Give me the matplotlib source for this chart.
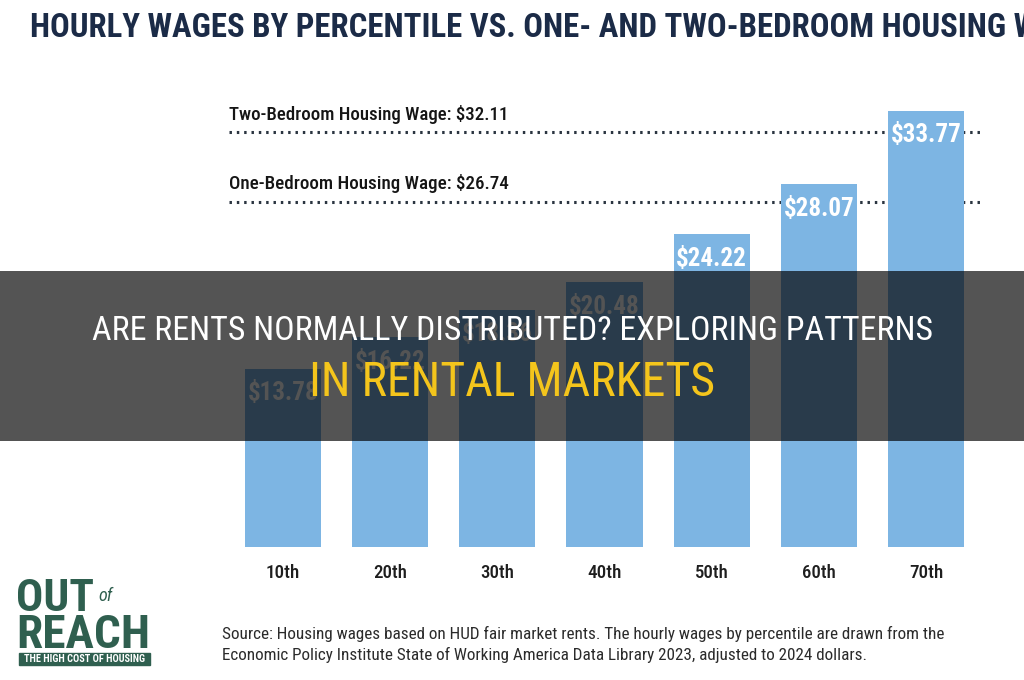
import matplotlib
matplotlib.use('Agg')
import matplotlib.pyplot as plt
from matplotlib import font_manager
from matplotlib.patches import Rectangle

# wages by percentile (30th label is hidden under the banner, value estimated)
percentiles = ['10th', '20th', '30th', '40th', '50th', '60th', '70th']
wages = [13.78, 16.22, 18.36, 20.48, 24.22, 28.07, 33.77]

# housing wage reference lines
housing_labels = ['Two-Bedroom Housing Wage: $32.11', 'One-Bedroom Housing Wage: $26.74']
housing_values = [32.11, 26.74]

title = 'HOURLY WAGES BY PERCENTILE VS. ONE- AND TWO-BEDROOM HOUSING WAGES'
source = ['Source: Housing wages based on HUD fair market rents. The hourly wages by percentile are drawn from the',
          'Economic Policy Institute State of Working America Data Library 2023, adjusted to 2024 dollars.']
banner_line1 = 'ARE RENTS NORMALLY DISTRIBUTED? EXPLORING PATTERNS'
banner_line2 = 'IN RENTAL MARKETS'

# pick the narrowest installed family
installed = {f.name for f in font_manager.fontManager.ttflist}
narrow_name = next((n for n in ['Liberation Sans Narrow', 'DejaVu Sans Condensed', 'Roboto Condensed',
                                'Open Sans Condensed', 'Roboto', 'Liberation Sans'] if n in installed),
                   'DejaVu Sans')
narrow = [narrow_name, 'DejaVu Sans']
navy = '#1b2b47'
bar_color = '#7db5e3'

W, H = 1024, 680
fig = plt.figure(figsize=(W / 100, H / 100), dpi=100)
fig.patch.set_facecolor('white')
renderer = fig.canvas.get_renderer()


def fit(t, width_px):
    # scale the font so the text is as wide as in the reference
    w = t.get_window_extent(renderer).width
    t.set_fontsize(t.get_fontsize() * width_px / w)
    return t


# axes placed in pixels so bars land where the original has them
left, right, bottom, top = 229.4, 979.6, 547, 100
ax = fig.add_axes([left / W, 1 - bottom / H, (right - left) / W, (bottom - top) / H])
x = range(len(wages))
ax.bar(x, wages, width=0.71, color=bar_color, zorder=2)
ax.set_xlim(-0.5, 6.5)
ax.set_ylim(0, 34.6)
for s in ax.spines.values():
    s.set_visible(False)
ax.set_yticks([])
ax.set_xticks(list(x))
ax.set_xticklabels(percentiles, family=narrow, fontsize=15, color='#1e1e1e', fontweight='medium')
ax.tick_params(axis='x', length=0, pad=12)
for lab in ax.get_xticklabels():
    fit(lab, 34)

# value labels inside bars
for xi, v in zip(x, wages):
    t = ax.annotate(f'${v:.2f}', (xi, v), xytext=(0, -9), textcoords='offset points',
                    ha='center', va='top', color='white', fontsize=18, fontweight='bold',
                    family=narrow, zorder=3)
    fit(t, 71)

# dotted housing wage lines
for lab, v in zip(housing_labels, housing_values):
    ax.axhline(v, color='#2a3440', lw=2.2, ls=(0, (0.8, 1.6)), zorder=1)
    t = ax.annotate(lab, (-0.5, v), xytext=(0, 6), textcoords='offset points',
                    ha='left', va='bottom', fontsize=15, family=narrow, color='#151515',
                    fontweight='medium')
    fit(t, 280)

# title (runs off the right edge like the original)
t = fig.text(30 / W, 1 - 28 / H, title.rsplit(' ', 1)[0], ha='left', va='center', fontsize=21,
             fontweight='bold', family=narrow, color=navy)
fit(t, 975)
t.set_text(title)

# logo
green = '#2f5f4f'
t = fig.text(16 / W, 1 - 599 / H, 'OUT', fontsize=36, fontweight='bold', family=narrow,
             color=green, va='center', ha='left')
fit(t, 78)
fig.text(98 / W, 1 - 596 / H, 'of', fontsize=13, style='italic', family=narrow,
         color=green, va='center', ha='left')
t = fig.text(16 / W, 1 - 635 / H, 'REACH', fontsize=36, fontweight='bold', family=narrow,
             color=green, va='center', ha='left')
fit(t, 134)
fig.patches.append(Rectangle((19 / W, 1 - 665 / H), 131 / W, 12 / H,
                             transform=fig.transFigure, color=green, zorder=1))
t = fig.text(84.5 / W, 1 - 659 / H, 'THE HIGH COST OF HOUSING', fontsize=5.5, fontweight='bold',
             family=narrow, color='white', va='center', ha='center')
fit(t, 120)

# source note
t1 = fig.text(222 / W, 1 - 634 / H, source[0], fontsize=11.5, family=narrow,
              color='#2b2b2b', va='center', ha='left')
fit(t1, 724)
fig.text(222 / W, 1 - 655 / H, source[1], fontsize=t1.get_fontsize(), family=narrow,
         color='#2b2b2b', va='center', ha='left')

# dark banner across the middle
fig.patches.append(Rectangle((0, 1 - 441 / H), 1, 170 / H, transform=fig.transFigure,
                             facecolor='black', alpha=0.67, zorder=10))
t = fig.text(0.5, 1 - 331 / H, banner_line1, ha='center', va='center', fontsize=28,
             family=narrow, color='white', zorder=11)
fit(t, 843)
t = fig.text(0.5, 1 - 383 / H, banner_line2, ha='center', va='center', fontsize=28,
             family=narrow, color='#f4c51c', zorder=11)
fit(t, 407)

fig.savefig('out.png', dpi=100, facecolor='white')
